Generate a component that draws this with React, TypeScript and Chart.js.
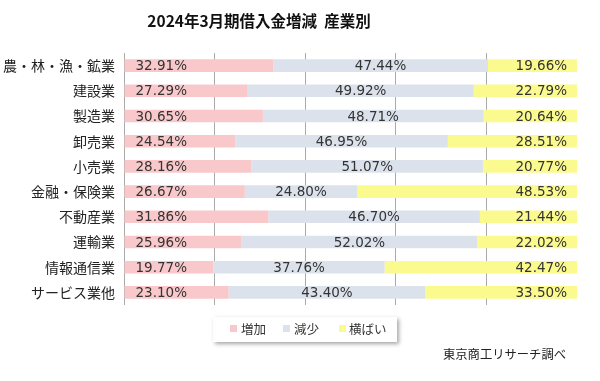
import React, { useEffect, useRef } from "react";
import { Chart, registerables } from "chart.js";
Chart.register(...registerables);

const categories = ["農・林・漁・鉱業", "建設業", "製造業", "卸売業", "小売業", "金融・保険業", "不動産業", "運輸業", "情報通信業", "サービス業他"];
const increase = [32.91, 27.29, 30.65, 24.54, 28.16, 26.67, 31.86, 25.96, 19.77, 23.1];
const decrease = [47.44, 49.92, 48.71, 46.95, 51.07, 24.8, 46.7, 52.02, 37.76, 43.4];
const flat = [19.66, 22.79, 20.64, 28.51, 20.77, 48.53, 21.44, 22.02, 42.47, 33.5];
const seriesNames = ["増加", "減少", "横ばい"];
const titleText = "2024年3月期借入金増減  産業別";
const sourceText = "東京商工リサーチ調べ";

const colors = ["#F9C8CB", "#DCE2EC", "#FAFA8E"];
const JP = "'Noto Sans CJK JP', sans-serif";
const NUM = "'DejaVu Sans', sans-serif";

const decorPlugin = {
  id: "decor",
  afterDraw(chart: any) {
    const ctx = chart.ctx;
    ctx.save();
    // data labels
    ctx.font = `13.5px ${NUM}`;
    ctx.fillStyle = "#333";
    ctx.textBaseline = "middle";
    chart.data.datasets.forEach((ds: any, di: number) => {
      const meta = chart.getDatasetMeta(di);
      meta.data.forEach((el: any, i: number) => {
        const txt = ds.data[i].toFixed(2) + "%";
        const start = Math.min(el.base, el.x);
        const end = Math.max(el.base, el.x);
        if (di === 0) {
          ctx.textAlign = "left";
          ctx.fillText(txt, start + 11, el.y + 1);
        } else if (di === 1) {
          ctx.textAlign = "center";
          ctx.fillText(txt, (start + end) / 2, el.y + 1);
        } else {
          ctx.textAlign = "right";
          ctx.fillText(txt, end - 10, el.y + 1);
        }
      });
    });
    // title
    ctx.font = `bold 15.5px ${JP}`;
    ctx.fillStyle = "#111";
    ctx.textAlign = "center";
    ctx.fillText(titleText, 259, 21);
    // legend box
    ctx.save();
    ctx.shadowColor = "rgba(0,0,0,0.35)";
    ctx.shadowBlur = 4;
    ctx.shadowOffsetX = 2;
    ctx.shadowOffsetY = 2;
    ctx.fillStyle = "#fff";
    ctx.fillRect(213, 317, 184, 25);
    ctx.restore();
    const items = [
      { x: 230, tx: 241 },
      { x: 283, tx: 294 },
      { x: 339, tx: 349 },
    ];
    ctx.font = `12.5px ${JP}`;
    ctx.textAlign = "left";
    items.forEach((it, k) => {
      ctx.fillStyle = colors[k];
      ctx.fillRect(it.x, 325, 7, 7);
      ctx.fillStyle = "#333";
      ctx.fillText(seriesNames[k], it.tx, 329);
    });
    // source
    ctx.font = `12.3px ${JP}`;
    ctx.fillStyle = "#222";
    ctx.textAlign = "right";
    ctx.fillText(sourceText, 566, 354);
    ctx.restore();
  },
};

export default function App() {
  const ref = useRef<HTMLCanvasElement>(null);
  useEffect(() => {
    const chart = new Chart(ref.current!, {
      type: "bar",
      data: {
        labels: categories,
        datasets: [increase, decrease, flat].map((d, i) => ({
          label: seriesNames[i],
          data: d,
          backgroundColor: colors[i],
          borderWidth: 0,
          barPercentage: 0.5,
          categoryPercentage: 1,
        })),
      },
      options: {
        indexAxis: "y",
        animation: false,
        responsive: true,
        maintainAspectRatio: false,
        layout: { padding: { top: 53, bottom: 76, right: 23, left: 0 } },
        plugins: { legend: { display: false }, title: { display: false }, tooltip: { enabled: false } },
        scales: {
          x: {
            stacked: true,
            min: 0,
            max: 100,
            z: 1,
            ticks: { display: false, stepSize: 20 },
            grid: {
              drawTicks: false,
              color: (c: any) => (c.tick && c.tick.value === 100 ? "rgba(0,0,0,0)" : "#aaaaaa"),
            },
            border: { display: false },
          },
          y: {
            stacked: true,
            afterFit: (s: any) => {
              s.width = 124;
            },
            ticks: { font: { family: JP, size: 14 }, color: "#222", padding: 9 },
            grid: { display: false, drawTicks: false },
            border: { display: false },
          },
        },
      },
      plugins: [decorPlugin],
    } as any);
    return () => chart.destroy();
  }, []);
  return (
    <div style={{ position: "fixed", left: 0, top: 0, width: 600, height: 381, background: "#fff" }}>
      <canvas ref={ref} />
    </div>
  );
}
